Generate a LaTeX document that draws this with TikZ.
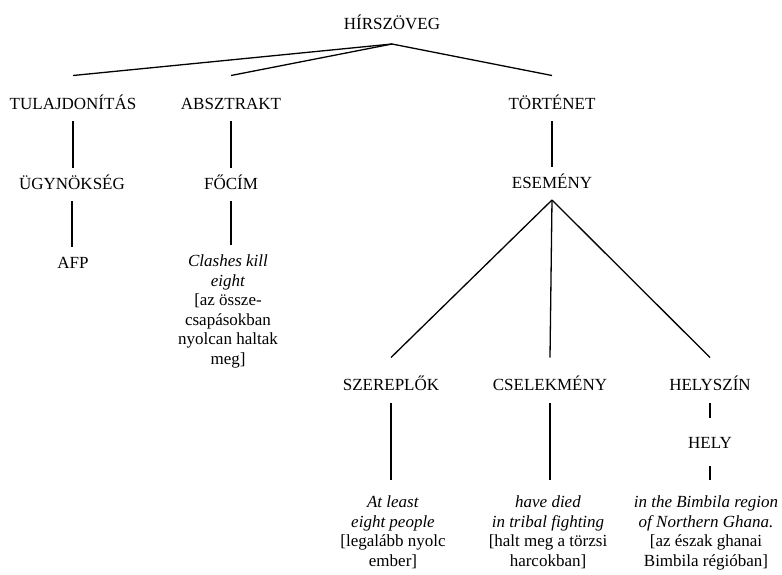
\documentclass[tikz,border=0pt]{standalone}
\usepackage{fontspec}
\setmainfont{Liberation Serif}
\tikzset{
  % Category label (capitals)
  cat/.style={inner sep=0pt,outer sep=0pt,text height=11.5pt,text depth=0pt,
              font=\fontsize{17}{19.5}\selectfont,anchor=base},
  % Text sample with gloss, placed by its top line
  gloss/.style={inner sep=0pt,outer sep=0pt,align=center,
                font=\fontsize{17}{19.5}\selectfont,anchor=north},
  % Tree lines
  link/.style ={line width=1.3pt},
  vline/.style={link,shorten <=12pt,shorten >=10pt},
}
\begin{document}
\begin{tikzpicture}[x=1pt,y=-1pt]
  \useasboundingbox (0,0) rectangle (782,574);
  \node[cat] at (392,29) (root) {HÍRSZÖVEG};
  \node[cat] at (73,109)  (tulaj) {TULAJDONÍTÁS};
  \node[cat] at (231,109) (absz)  {ABSZTRAKT};
  \node[cat] at (552,109) (tort)  {TÖRTÉNET};
  \coordinate (top) at ([yshift=-15pt]root.south);
  \draw[link] (top)--([yshift=22pt]tulaj.north);
  \draw[link] (top)--([yshift=22pt]absz.north);
  \draw[link] (top)--([yshift=22pt]tort.north);
  \node[cat] at (72,189)  (ugy)   {ÜGYNÖKSÉG};
  \node[cat] at (231,189) (focim) {FŐCÍM};
  \node[cat] at (552,188) (esem)  {ESEMÉNY};
  \draw[vline] (tulaj.south)--(tulaj.south|-ugy.north);
  \draw[vline] (absz.south)--(absz.south|-focim.north);
  \draw[vline] (tort.south)--(tort.south|-esem.north);
  \node[cat] at (73,268) (afp) {AFP};
  \draw[vline] (ugy.south)--(ugy.south|-afp.north);
  \node[gloss] at (228,255) (cim)
       {\textit{Clashes kill}\\\textit{eight}\\{[}az össze-\\csapásokban\\
        nyolcan haltak\\meg]};
  \draw[vline] (focim.south)--(focim.south|-cim.north);
  \node[cat] at (391,390) (szer) {SZEREPLŐK};
  \node[cat] at (550,390) (csel) {CSELEKMÉNY};
  \node[cat] at (710,390) (hsz)  {HELYSZÍN};
  \coordinate (fork) at ([yshift=-12pt]esem.south);
  \draw[link] (fork)--([yshift=21pt]szer.north);
  \draw[link] (fork)--([yshift=21pt]csel.north);
  \draw[link] (fork)--([yshift=21pt]hsz.north);
  \node[cat] at (710,448) (hely) {HELY};
  \draw[vline,shorten <=13pt,shorten >=19pt] (hsz.south)--(hely.north);
  \node[gloss] at (393,496) (szerg)
       {\textit{At least}\\\textit{eight people}\\{[}legalább nyolc\\ember]};
  \node[gloss] at (548,496) (cselg)
       {\textit{have died}\\\textit{in tribal fighting}\\{[}halt meg a törzsi\\harcokban]};
  \node[gloss] at (706,496) (hszg)
       {\textit{in the Bimbila region}\\\textit{of Northern Ghana.}\\{[}az észak ghanai\\Bimbila régióban]};
  \draw[vline,shorten <=13pt,shorten >=16pt] (szer.south)--(szer.south|-szerg.north);
  \draw[vline,shorten <=13pt,shorten >=16pt] (csel.south)--(csel.south|-cselg.north);
  \draw[vline,shorten <=18pt,shorten >=16pt] (hely.south)--(hely.south|-hszg.north);
\end{tikzpicture}
\end{document}
